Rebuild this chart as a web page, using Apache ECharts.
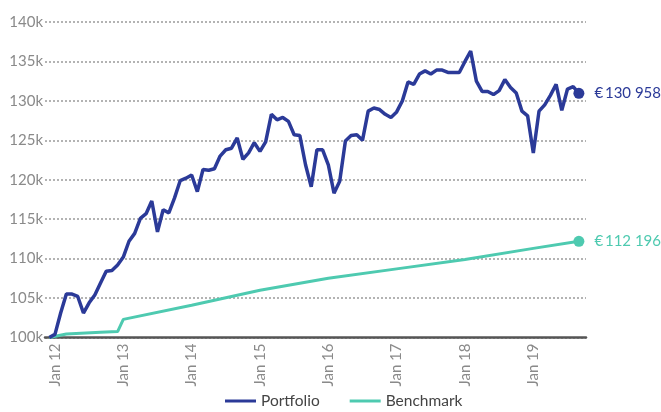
<!DOCTYPE html>
<html>
<head>
<meta charset="utf-8">
<script src="https://cdn.jsdelivr.net/npm/echarts@6/dist/echarts.min.js"></script>
<style>
  html, body { margin: 0; padding: 0; background: #fff; }
  #chart { width: 661px; height: 412px; }
</style>
</head>
<body>
<div id="chart"></div>
<script>
// months counted from Jan 2012 (0 = Jan 12), portfolio starts Dec 2011
var firstMonth = -1;
var portfolio = [
  100.0, 100.4, 103.1, 105.5, 105.5, 105.2, 103.1, 104.4, 105.4, 106.9, 108.4, 108.5, 109.2,
  110.2, 112.2, 113.2, 115.1, 115.7, 117.3, 113.4, 116.2, 115.8, 117.7, 119.9, 120.2,
  120.6, 118.5, 121.3, 121.2, 121.4, 123.0, 123.8, 124.0, 125.3, 122.6, 123.4, 124.7,
  123.6, 124.8, 128.3, 127.6, 127.9, 127.4, 125.7, 125.6, 121.9, 119.1, 123.8, 123.8,
  121.9, 118.3, 119.8, 124.9, 125.6, 125.7, 125.0, 128.7, 129.1, 128.9, 128.3, 127.9,
  128.6, 130.0, 132.4, 132.1, 133.4, 133.8, 133.4, 133.9, 133.9, 133.6, 133.6, 133.6,
  135.0, 136.3, 132.5, 131.2, 131.2, 130.8, 131.3, 132.7, 131.7, 131.0, 128.7, 128.1,
  123.4, 128.7, 129.5, 130.7, 132.1, 128.8, 131.5, 131.8, 130.958
];
// benchmark read at its visible turning points: [month, value in k]
var benchmarkMonths = [-1, 2, 8, 11, 12, 24, 36, 48, 60, 72, 84, 92];
var benchmarkValues = [100.0, 100.45, 100.65, 100.75, 102.3, 104.1, 106.0, 107.5, 108.7, 109.9, 111.3, 112.196];

var tickMonths = [0, 12, 24, 36, 48, 60, 72, 84];
var tickLabels = ['Jan 12', 'Jan 13', 'Jan 14', 'Jan 15', 'Jan 16', 'Jan 17', 'Jan 18', 'Jan 19'];

var navy = '#2b3a98';
var teal = '#4ecab0';

var portData = portfolio.map(function (v, i) { return [firstMonth + i, v * 1000]; });
var benchData = benchmarkMonths.map(function (m, i) { return [m, benchmarkValues[i] * 1000]; });
var portLast = portData[portData.length - 1];
var benchLast = benchData[benchData.length - 1];

function euro(v) {
  var n = Math.round(v);
  var s = String(n).replace(/\B(?=(\d{3})+(?!\d))/g, ' ');
  return '€\u2009' + s;
}

var myChart = echarts.init(document.getElementById('chart'));
var option = {
  animation: false,
  textStyle: { fontFamily: 'Lato' },
  grid: { left: 45, right: 75, top: 22, bottom: 74.5 },
  legend: {
    bottom: -2,
    left: 220,
    itemWidth: 31,
    itemHeight: 3,
    itemGap: 30,
    icon: 'rect',
    textStyle: { color: '#444', fontSize: 15.5, fontFamily: 'Lato' },
    data: ['Portfolio', 'Benchmark']
  },
  xAxis: {
    type: 'value',
    min: -1.75,
    max: 93.25,
    splitLine: { show: false },
    axisTick: { show: false },
    axisLine: { show: true, lineStyle: { color: '#555', width: 2.5 } },
    axisLabel: {
      customValues: tickMonths,
      rotate: 90,
      color: '#8a8a8a',
      fontSize: 15,
      margin: 6,
      formatter: function (v) {
        var i = tickMonths.indexOf(v);
        return i >= 0 ? tickLabels[i] : '';
      }
    }
  },
  yAxis: {
    type: 'value',
    min: 100000,
    max: 140000,
    interval: 5000,
    axisLine: { show: false },
    axisTick: { show: false },
    axisLabel: {
      color: '#8a8a8a',
      fontSize: 15,
      margin: 2,
      formatter: function (v) { return (v / 1000) + 'k'; }
    },
    splitLine: { lineStyle: { color: '#9a9a9a', type: [2, 2], width: 1.5 } }
  },
  series: [
    {
      name: 'Portfolio',
      type: 'line',
      data: portData,
      showSymbol: false,
      lineStyle: { color: navy, width: 3.5 },
      itemStyle: { color: navy },
      z: 3
    },
    {
      name: 'Benchmark',
      type: 'line',
      data: benchData,
      showSymbol: false,
      lineStyle: { color: teal, width: 3 },
      itemStyle: { color: teal },
      z: 2
    },
    {
      type: 'scatter',
      data: [portLast],
      symbolSize: 11,
      itemStyle: { color: navy, opacity: 1 },
      label: {
        show: true, position: 'right', distance: 10, color: navy, fontSize: 15,
        formatter: function (p) { return euro(p.value[1]); }
      },
      z: 4
    },
    {
      type: 'scatter',
      data: [benchLast],
      symbolSize: 11,
      itemStyle: { color: teal, opacity: 1 },
      label: {
        show: true, position: 'right', distance: 10, color: teal, fontSize: 15,
        formatter: function (p) { return euro(p.value[1]); }
      },
      z: 4
    }
  ]
};
myChart.setOption(option);
</script>
</body>
</html>
